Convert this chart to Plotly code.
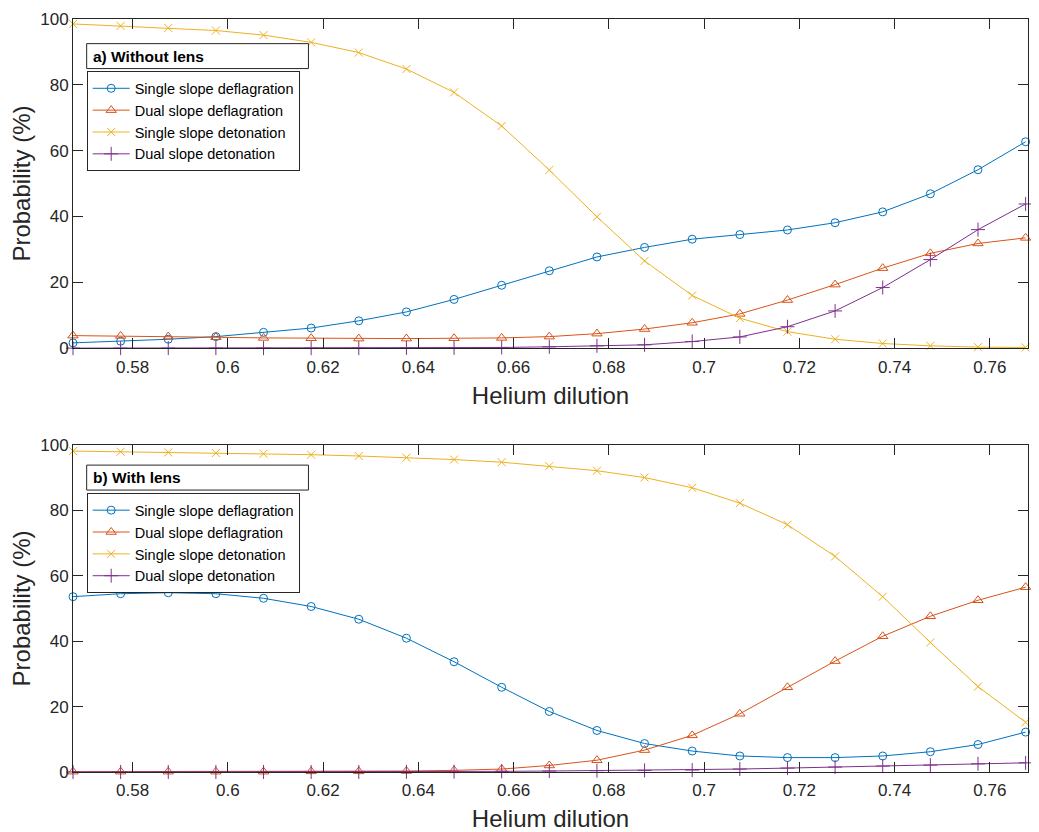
import plotly.graph_objects as go

# ---------------- data ----------------
helium_dilution = [0.5675, 0.5775, 0.5875, 0.5975, 0.6075, 0.6175, 0.6275, 0.6375,
                   0.6475, 0.6575, 0.6675, 0.6775, 0.6875, 0.6975, 0.7075, 0.7175,
                   0.7275, 0.7375, 0.7475, 0.7575, 0.7675]

series_names = ["Single slope deflagration", "Dual slope deflagration",
                "Single slope detonation", "Dual slope detonation"]

# a) Without lens
a_single_defl = [1.6, 2.1, 2.7, 3.5, 4.8, 6.1, 8.3, 11.0, 14.8, 19.1, 23.5,
                 27.7, 30.6, 33.1, 34.5, 35.9, 38.1, 41.4, 46.9, 54.2, 62.7]
a_dual_defl = [3.8, 3.7, 3.5, 3.3, 3.1, 3.0, 2.9, 2.9, 3.0, 3.1, 3.5,
               4.4, 5.8, 7.7, 10.4, 14.6, 19.3, 24.3, 28.8, 31.8, 33.5]
a_single_det = [98.5, 97.9, 97.3, 96.5, 95.1, 92.9, 89.8, 84.8, 77.7, 67.5, 54.1,
                39.9, 26.5, 16.0, 9.1, 5.0, 2.7, 1.4, 0.7, 0.3, 0.2]
a_dual_det = [0.0, 0.0, 0.0, 0.0, 0.0, 0.0, 0.0, 0.05, 0.1, 0.2, 0.4,
              0.7, 1.0, 2.0, 3.4, 6.5, 11.3, 18.4, 26.9, 36.0, 43.8]

# b) With lens
b_single_defl = [53.6, 54.5, 54.8, 54.5, 53.1, 50.6, 46.7, 40.9, 33.7, 25.9, 18.5,
                 12.7, 8.7, 6.4, 4.9, 4.4, 4.4, 4.9, 6.2, 8.4, 12.2]
b_dual_defl = [0.1, 0.1, 0.1, 0.1, 0.1, 0.2, 0.2, 0.3, 0.5, 0.9, 2.0,
               3.6, 6.7, 11.2, 17.8, 25.9, 33.9, 41.5, 47.6, 52.5, 56.5]
b_single_det = [98.1, 97.9, 97.7, 97.5, 97.3, 97.0, 96.6, 96.1, 95.5, 94.7, 93.5,
                92.1, 90.0, 86.9, 82.2, 75.6, 65.9, 53.6, 39.6, 26.1, 15.2]
b_dual_det = [0.0, 0.0, 0.0, 0.0, 0.0, 0.0, 0.0, 0.05, 0.1, 0.2, 0.3,
              0.4, 0.5, 0.6, 0.9, 1.2, 1.5, 1.8, 2.1, 2.5, 2.8]

x_tick_vals = [0.58, 0.60, 0.62, 0.64, 0.66, 0.68, 0.70, 0.72, 0.74, 0.76]
x_tick_text = ["0.58", "0.6", "0.62", "0.64", "0.66", "0.68", "0.7", "0.72", "0.74", "0.76"]
y_tick_vals = [0, 20, 40, 60, 80, 100]

panel_titles = ["a) Without lens", "b) With lens"]

# ---------------- style ----------------
colors = ["#0072BD", "#D95319", "#EDB120", "#7E2F8E"]
symbols = ["circle-open", "triangle-up-open", "x-thin-open", "cross-thin-open"]
sizes = [8, 9, 8, 10]
FONT = "Liberation Sans, Arial, Helvetica, sans-serif"
AX = "#262626"

# the page body has an 8 px margin; keep the figure inside the visible window
OFF = 8
W, H = 1023, 824
ML, MR, MT, MB = 65, 2, 9, 60
PW = W - ML - MR
PH = H - MT - MB


def px_x(px):
    # window pixel -> paper fraction
    return (px - OFF - ML) / PW


def px_y(py):
    return (H - MB - (py - OFF)) / PH


fig = go.Figure()

panels = [
    (a_single_defl, a_dual_defl, a_single_det, a_dual_det),
    (b_single_defl, b_dual_defl, b_single_det, b_dual_det),
]
for p, data in enumerate(panels):
    xa = "x" if p == 0 else "x2"
    ya = "y" if p == 0 else "y2"
    lg = "legend" if p == 0 else "legend2"
    for k, ys in enumerate(data):
        fig.add_trace(go.Scatter(
            x=helium_dilution, y=ys, name=series_names[k],
            mode="lines+markers", xaxis=xa, yaxis=ya, legend=lg,
            line=dict(color=colors[k], width=1),
            marker=dict(symbol=symbols[k], size=sizes[k], color=colors[k],
                        line=dict(color=colors[k], width=1)),
            cliponaxis=False,
        ))

axis_common = dict(
    showline=True, linecolor=AX, linewidth=1, mirror="ticks",
    ticks="inside", ticklen=10, tickwidth=1, tickcolor=AX,
    showgrid=False, zeroline=False, ticklabeloverflow="allow",
    tickfont=dict(family=FONT, size=17, color=AX),
)

xrange = [0.5675, 0.768]
top_dom = [px_y(347), px_y(17)]
bot_dom = [px_y(772), px_y(444)]

xtitle = dict(text="Helium dilution", font=dict(size=24, color=AX), standoff=11)
ytitle = dict(text="Probability (%)", font=dict(size=24, color=AX), standoff=9)

legend_common = dict(xanchor="left", yanchor="top",
                     bordercolor=AX, borderwidth=1, bgcolor="white",
                     font=dict(family=FONT, size=14.5, color="black"),
                     tracegroupgap=0, itemwidth=37)

fig.update_layout(
    width=W, height=H,
    margin=dict(l=ML, r=MR, t=MT, b=MB, pad=0),
    paper_bgcolor="white", plot_bgcolor="white",
    font=dict(family=FONT, color=AX),
    xaxis=dict(axis_common, domain=[0, 1], anchor="y", range=xrange,
               tickvals=x_tick_vals, ticktext=x_tick_text, ticklabelstandoff=3,
               title=xtitle),
    yaxis=dict(axis_common, domain=top_dom, anchor="x", range=[0, 100],
               tickvals=y_tick_vals, ticklabelstandoff=0, title=ytitle),
    xaxis2=dict(axis_common, domain=[0, 1], anchor="y2", range=xrange,
                tickvals=x_tick_vals, ticktext=x_tick_text, ticklabelstandoff=3,
                title=xtitle),
    yaxis2=dict(axis_common, domain=bot_dom, anchor="x2", range=[0, 100],
                tickvals=y_tick_vals, ticklabelstandoff=0, title=ytitle),
    legend=dict(legend_common, x=px_x(86.7), y=px_y(69.5)),
    legend2=dict(legend_common, x=px_x(86.7), y=px_y(492.5)),
    showlegend=True,
)

# panel title boxes
box_tops = [41.7, 464.3]
for p, top in enumerate(box_tops):
    fig.add_shape(type="rect", xref="paper", yref="paper",
                  x0=px_x(86.7), x1=px_x(308.7), y0=px_y(top + 25), y1=px_y(top),
                  line=dict(color=AX, width=1), fillcolor="white", layer="above")
    fig.add_annotation(xref="paper", yref="paper", x=px_x(91.5), y=px_y(top + 12.5),
                       xanchor="left", yanchor="middle", showarrow=False,
                       text="<b>" + panel_titles[p] + "</b>",
                       font=dict(family=FONT, size=15.5, color="black"))

fig.write_html("out.html")
